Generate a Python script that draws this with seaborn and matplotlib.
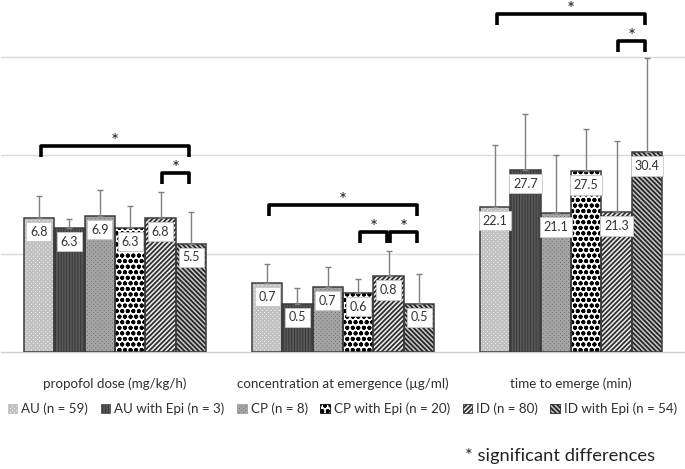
import matplotlib
matplotlib.use("Agg")
import matplotlib.pyplot as plt
from matplotlib.patches import Rectangle, Patch
import seaborn as sns
import pandas as pd
import numpy as np

# ---------------- data ----------------
metrics = ["propofol dose (mg/kg/h)", "concentration at emergence (µg/ml)", "time to emerge (min)"]
metric_units = [5.0, 1.0, 15.0]   # value represented by one gridline step in each panel
groups = ["AU (n = 59)", "AU with Epi (n = 3)", "CP (n = 8)",
          "CP with Epi (n = 20)", "ID (n = 80)", "ID with Epi (n = 54)"]

propofol_mean = [6.8, 6.3, 6.9, 6.3, 6.8, 5.5]
propofol_sd = [1.1, 0.45, 1.3, 1.1, 1.3, 1.6]
conc_mean = [0.70, 0.49, 0.66, 0.60, 0.77, 0.49]
conc_sd = [0.19, 0.16, 0.20, 0.14, 0.26, 0.30]
time_mean = [22.1, 27.7, 21.1, 27.5, 21.3, 30.4]
time_sd = [9.4, 8.5, 8.9, 6.5, 10.8, 14.4]

# significance brackets: (metric index, group i, group j, height in panel units)
brackets = [(0, 0, 5, 2.09), (0, 4, 5, 1.82),
            (1, 0, 5, 1.49), (1, 3, 4, 1.22), (1, 4, 5, 1.22),
            (2, 0, 5, 3.43), (2, 4, 5, 3.16)]

means = [propofol_mean, conc_mean, time_mean]
sds = [propofol_sd, conc_sd, time_sd]

rows = []
for mi, m in enumerate(metrics):
    for gi, g in enumerate(groups):
        rows.append(dict(metric=m, group=g, value=means[mi][gi], sd=sds[mi][gi],
                         norm=means[mi][gi] / metric_units[mi],
                         norm_sd=sds[mi][gi] / metric_units[mi]))
df = pd.DataFrame(rows)

# ---------------- styles ----------------
styles = {
    groups[0]: dict(face="#f6f6f6", hatch="xxxxxxxx", hc="#c0c0c0"),
    groups[1]: dict(face="#383838", hatch="||||||", hc="#585858"),
    groups[2]: dict(face="#6e6e6e", hatch="xxxxxxxx", hc="#a4a4a4"),
    groups[3]: dict(face="#ffffff", hatch="ooo", hc="#000000"),
    groups[4]: dict(face="#f0f0f0", hatch="///////", hc="#303030"),
    groups[5]: dict(face="#c8c8c8", hatch="\\" * 7, hc="#262626"),
}

sns.set_theme(style="white")
plt.rcParams["font.family"] = ["Lato", "DejaVu Sans"]
plt.rcParams["hatch.linewidth"] = 1.3

fig = plt.figure(figsize=(6.85, 4.69), dpi=100)
ax = fig.add_axes([1 / 685, 117 / 469, 684 / 685, 352 / 469])

sns.barplot(data=df, x="metric", y="norm", hue="group", order=metrics, hue_order=groups,
            width=0.8, gap=0, errorbar=None, legend=False, saturation=1, ax=ax, zorder=2)

ax.set_xlim(-0.5, 2.5)
ax.set_ylim(0, 3.574)

bar_centers = {}
for gi, cont in enumerate(ax.containers):
    st = styles[groups[gi]]
    for p in cont.patches:
        cx = p.get_x() + p.get_width() / 2
        mi = int(round(cx))
        bar_centers[(mi, gi)] = cx
        p.set_facecolor(st["face"])
        p.set_edgecolor(st["hc"])
        p.set_hatch(st["hatch"])
        p.set_linewidth(0)
        ax.add_patch(Rectangle((p.get_x(), p.get_y()), p.get_width(), p.get_height(),
                               fill=False, edgecolor="#3c3c3c", lw=1.1, zorder=3))

# error bars (upper only) and value labels
for _, r in df.iterrows():
    mi = metrics.index(r["metric"])
    gi = groups.index(r["group"])
    cx = bar_centers[(mi, gi)]
    ax.errorbar([cx], [r["norm"]], yerr=[[0], [r["norm_sd"]]], fmt="none",
                ecolor="#7f7f7f", elinewidth=1.0, capsize=2.5, capthick=1.0, zorder=4)
    ax.annotate(f"{r['value']:.1f}", (cx, r["norm"]), xytext=(0, -9.8),
                textcoords="offset points", ha="center", va="center", fontsize=9,
                color="#333333", zorder=6,
                bbox=dict(boxstyle="square,pad=0.3", fc="white", ec="#c8c8c8", lw=0.6))

# significance brackets
leg = 0.11
inset = 0.008
for mi, gi, gj, h in brackets:
    x0 = bar_centers[(mi, gi)] + inset
    x1 = bar_centers[(mi, gj)] - inset
    ax.plot([x0, x0, x1, x1], [h - leg, h, h, h - leg], color="black", lw=2.6,
            solid_joinstyle="round", solid_capstyle="butt", zorder=5, clip_on=False)
    ax.text((x0 + x1) / 2, h + 0.045, "*", ha="center", va="center", fontsize=13.5,
            color="#222222", zorder=5)

# grid and axes
for yv in [1, 2, 3]:
    ax.axhline(yv, color="#d9d9d9", lw=1.0, zorder=0)
for s in ["top", "left", "right"]:
    ax.spines[s].set_visible(False)
ax.spines["bottom"].set_color("#d0d0d0")
ax.spines["bottom"].set_linewidth(1.0)
ax.set_yticks([])
ax.set_xticks(range(len(metrics)))
ax.set_xticklabels(metrics, fontsize=9.6, color="#2e2e2e")
ax.set_xticks([-0.5, 0.5, 1.5, 2.5], minor=True)
ax.tick_params(axis="x", which="major", length=0, pad=18)
ax.tick_params(axis="x", which="minor", length=5, color="#d0d0d0", width=1, direction="out")
ax.set_xlabel("")
ax.set_ylabel("")

handles = [Patch(facecolor=styles[g]["face"], edgecolor=styles[g]["hc"], hatch=styles[g]["hatch"],
                 lw=0.6, label=g) for g in groups]
fig.legend(handles=handles, loc="center", bbox_to_anchor=(0.5, 1 - 409 / 469), ncol=6,
           frameon=False, fontsize=9.6, handlelength=0.7, handleheight=0.7,
           handletextpad=0.3, columnspacing=0.95, borderaxespad=0, labelcolor="#2e2e2e")

fig.text(465 / 685, 1 - 456 / 469, "* significant differences", ha="left", va="center",
         fontsize=13.2, color="#222222")

fig.savefig("out.png", dpi=100)
